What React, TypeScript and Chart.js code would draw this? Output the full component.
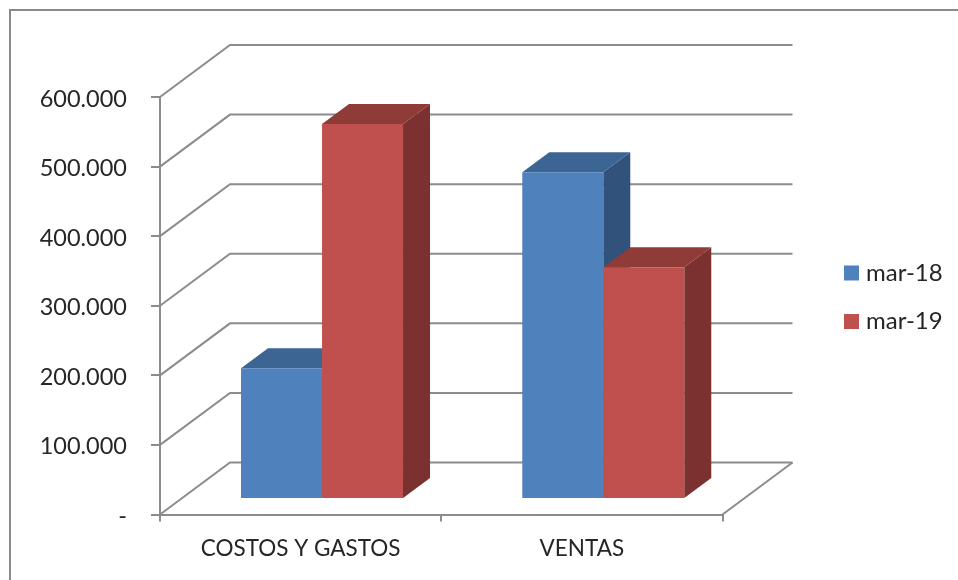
import React, { useEffect, useRef } from "react";
import { Chart, registerables } from "chart.js";

Chart.register(...registerables);

const categories = ["COSTOS Y GASTOS", "VENTAS"];
const seriesNames = ["mar-18", "mar-19"];
const mar18 = [188000, 469500];
const mar19 = [539000, 333000];

const frontColors = ["#4F81BD", "#C0504D"];
const topColors = ["#3C6593", "#8F3B38"];
const sideColors = ["#30527B", "#7B312F"];
const axisColor = "#8C8C8C";
const textColor = "#262626";
const fontFamily = "Lato, Carlito, sans-serif";

// 3D projection offsets, in pixels
const wallDepth = { x: 70, y: 52 };
const barShift = { x: 21.4, y: 15.5 };
const barDepth = { x: 27, y: 20 };

const plotLeft = 160;
const plotRight = 722.5;
const plotTop = 97;
const plotBottom = 514.5;
const width = 958;
const height = 580;

function poly(ctx: CanvasRenderingContext2D, color: string, pts: number[][]) {
  ctx.fillStyle = color;
  ctx.beginPath();
  pts.forEach(([x, y], i) => (i ? ctx.lineTo(x, y) : ctx.moveTo(x, y)));
  ctx.closePath();
  ctx.fill();
}

const threeD = {
  id: "threeD",
  beforeLayout(chart: any) {
    // Reserve the full right-hand strip for the legend box
    const l = chart.legend;
    if (l) {
      const baseFit = Object.getPrototypeOf(l).fit;
      l.fit = function () {
        baseFit.call(this);
        this.width = width - plotRight;
      };
    }
  },
  afterLayout(chart: any) {
    const l = chart.legend;
    if (!l) return;
    const pad = l.options.labels.padding;
    l.left = 849 - pad;
    l.right = width;
    l.top = 236.5;
  },
  beforeDatasetsDraw(chart: any) {
    const { ctx, chartArea } = chart;
    const y = chart.scales.y;
    ctx.save();
    ctx.strokeStyle = axisColor;
    ctx.lineWidth = 2;
    y.ticks.forEach((t: any) => {
      const py = y.getPixelForValue(t.value);
      ctx.beginPath();
      ctx.moveTo(chartArea.left, py);
      ctx.lineTo(chartArea.left + wallDepth.x, py - wallDepth.y);
      ctx.lineTo(chartArea.right + wallDepth.x, py - wallDepth.y);
      ctx.stroke();
    });
    const py0 = y.getPixelForValue(0);
    ctx.beginPath();
    ctx.moveTo(chartArea.right, py0);
    ctx.lineTo(chartArea.right + wallDepth.x, py0 - wallDepth.y);
    ctx.stroke();
    ctx.restore();

    // Paint back to front: first series first, so the next series' front hides its side face
    chart.data.datasets.forEach((_: any, i: number) => {
      const meta = chart.getDatasetMeta(i);
      ctx.save();
      ctx.translate(barShift.x, -barShift.y);
      meta.data.forEach((el: any) => {
        const { x, y: top, width: w, base } = el.getProps(["x", "y", "width", "base"], true);
        const l = x - w / 2;
        const r = x + w / 2;
        poly(ctx, sideColors[i], [
          [r, top],
          [r + barDepth.x, top - barDepth.y],
          [r + barDepth.x, base - barDepth.y],
          [r, base],
        ]);
        poly(ctx, topColors[i], [
          [l, top],
          [l + barDepth.x, top - barDepth.y],
          [r + barDepth.x, top - barDepth.y],
          [r, top],
        ]);
      });
      meta.controller.draw();
      ctx.restore();
    });
    return false;
  },
};

export default function App() {
  const ref = useRef<HTMLCanvasElement>(null);
  useEffect(() => {
    const chart = new Chart(ref.current as HTMLCanvasElement, {
      type: "bar",
      data: {
        labels: categories,
        datasets: [
          { label: seriesNames[0], data: mar18, backgroundColor: frontColors[0] } as any,
          { label: seriesNames[1], data: mar19, backgroundColor: frontColors[1] } as any,
        ],
      },
      options: {
        animation: false,
        responsive: false,
        layout: { padding: { top: plotTop, left: 0, right: 0, bottom: 0 } },
        datasets: { bar: { categoryPercentage: 0.576, barPercentage: 1 } },
        scales: {
          x: {
            afterFit(s: any) {
              s.height = height - plotBottom;
            },
            grid: { drawOnChartArea: false, drawTicks: true, tickLength: 7, color: axisColor, lineWidth: 2 },
            border: { color: axisColor, width: 2 },
            ticks: { color: textColor, font: { family: fontFamily, size: 22.5 }, padding: 14, maxRotation: 0 },
          },
          y: {
            min: 0,
            max: 600000,
            afterFit(s: any) {
              s.width = plotLeft;
            },
            grid: { drawOnChartArea: false, drawTicks: true, tickLength: 9, color: axisColor, lineWidth: 2 },
            border: { color: axisColor, width: 2 },
            ticks: {
              stepSize: 100000,
              color: textColor,
              font: { family: fontFamily, size: 23.5 },
              padding: 24,
              labelOffset: 2,
              callback: (v: any) => (v === 0 ? "-" : Number(v).toLocaleString("de-DE")),
            },
          },
        },
        plugins: {
          tooltip: { enabled: false },
          legend: {
            position: "right",
            align: "start",
            labels: {
              usePointStyle: true,
              pointStyle: "rect",
              boxWidth: 5,
              boxHeight: 15,
              padding: 24.5,
              color: textColor,
              font: { family: fontFamily, size: 24 },
            },
          },
        },
      },
      plugins: [threeD],
    } as any);
    return () => chart.destroy();
  }, []);
  return (
    <div style={{ position: "fixed", left: 0, top: 0, width, height, background: "#fff", overflow: "hidden" }}>
      <canvas ref={ref} width={width} height={height} style={{ position: "absolute", left: 0, top: 0 }} />
      <div
        style={{
          position: "absolute",
          left: 9,
          top: 9,
          right: 0,
          bottom: 0,
          borderLeft: "2px solid #8A8A8A",
          borderTop: "2px solid #8A8A8A",
        }}
      />
    </div>
  );
}
